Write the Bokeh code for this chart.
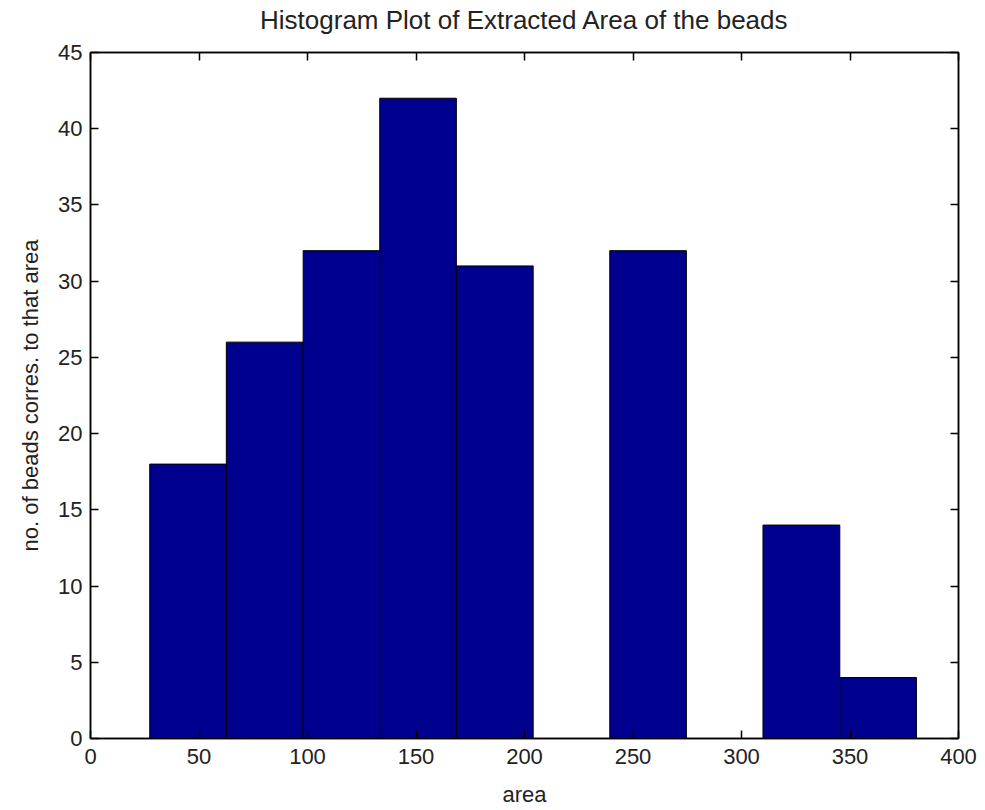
from bokeh.plotting import figure
from bokeh.models import LinearAxis, Range1d, FixedTicker, CustomLabelingPolicy
from bokeh.embed import file_html
from bokeh.resources import INLINE

# Histogram bin edges (area) and bead counts per bin
bin_edges = [27.3, 62.6, 98.0, 133.3, 168.6, 204.0, 239.3, 274.6, 309.9, 345.3, 380.6]
bead_counts = [18, 26, 32, 42, 31, 0, 32, 0, 14, 4]
x_ticks = [0, 50, 100, 150, 200, 250, 300, 350, 400]
y_ticks = [0, 5, 10, 15, 20, 25, 30, 35, 40, 45]

TITLE = "Histogram Plot of Extracted Area of the beads"
FONT = "Liberation Sans"
BAR_FILL = "#00008F"
TEXT_COLOR = "#222222"

p = figure(
    frame_width=868, frame_height=686,
    min_border_left=90, min_border_right=27,
    min_border_top=52, min_border_bottom=72,
    x_range=Range1d(0, 400), y_range=Range1d(0, 45),
    output_backend="svg", toolbar_location=None,
    x_axis_label="area", y_axis_label="no. of beads corres. to that area",
)

p.quad(left=bin_edges[:-1], right=bin_edges[1:], bottom=0, top=bead_counts,
       fill_color=BAR_FILL, line_color="black", line_width=1)

p.xgrid.visible = False
p.ygrid.visible = False
p.outline_line_color = "black"
p.outline_line_width = 1.5
p.background_fill_color = "white"
p.border_fill_color = "white"

# mirrored tick marks on the top and right sides carry no labels
no_labels = CustomLabelingPolicy(
    code="for (let i = 0; i < indices.size; i++) { indices.unset(i) } return indices"
)

def style_axis(ax, ticks):
    ax.ticker = FixedTicker(ticks=ticks)
    ax.major_tick_in = 8
    ax.major_tick_out = 0
    ax.minor_tick_in = 0
    ax.minor_tick_out = 0
    ax.major_tick_line_color = "black"
    ax.major_tick_line_width = 1.5
    ax.axis_line_color = "black"
    ax.axis_line_width = 1.5
    ax.major_label_text_font = FONT
    ax.major_label_text_color = TEXT_COLOR
    ax.axis_label_text_font = FONT
    ax.axis_label_text_font_style = "normal"
    ax.axis_label_text_color = TEXT_COLOR

for ax in p.xaxis:
    style_axis(ax, x_ticks)
    ax.major_label_text_font_size = "22px"
    ax.major_label_standoff = 10
    ax.axis_label_text_font_size = "22px"
    ax.axis_label_standoff = 15
for ax in p.yaxis:
    style_axis(ax, y_ticks)
    ax.major_label_text_font_size = "22px"
    ax.major_label_standoff = 8
    ax.axis_label_text_font_size = "22px"
    ax.axis_label_standoff = 12

# top axis: inward ticks, with the chart heading as its label
top_axis = LinearAxis(axis_label=TITLE)
style_axis(top_axis, x_ticks)
top_axis.major_label_policy = no_labels
top_axis.major_label_standoff = 0
top_axis.axis_label_text_font_size = "26px"
top_axis.axis_label_standoff = 7
p.add_layout(top_axis, "above")

right_axis = LinearAxis()
style_axis(right_axis, y_ticks)
right_axis.major_label_policy = no_labels
right_axis.major_label_standoff = 0
p.add_layout(right_axis, "right")

open("out.html", "w").write(file_html(p, INLINE))
